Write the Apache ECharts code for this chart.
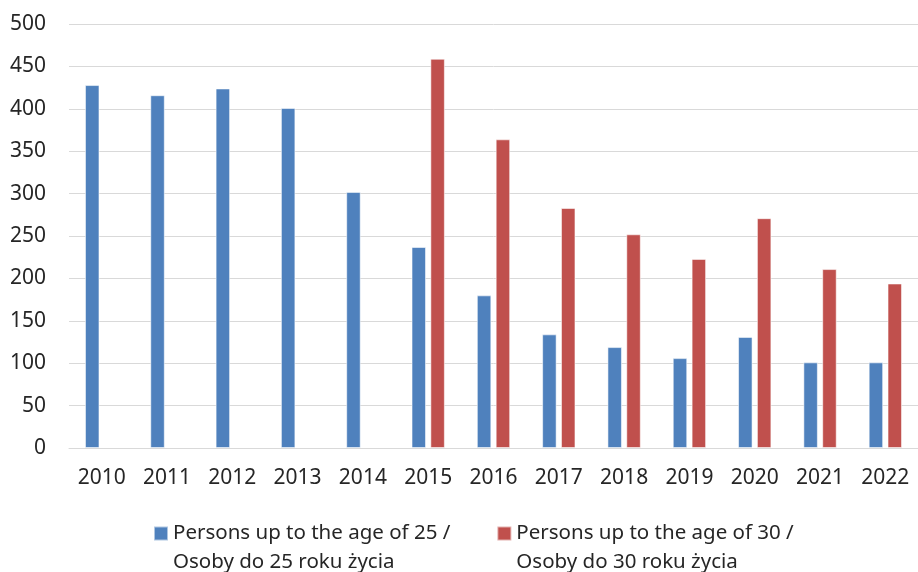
<!DOCTYPE html>
<html>
<head>
<meta charset="utf-8">
<script src="https://cdn.jsdelivr.net/npm/echarts@6/dist/echarts.min.js"></script>
<style>html,body{margin:0;padding:0;background:#fff}#c{width:918px;height:572px}</style>
</head>
<body>
<div id="c"></div>
<script>
const categories = ['2010','2011','2012','2013','2014','2015','2016','2017','2018','2019','2020','2021','2022'];
const under25 = [428, 416, 424, 401, 302, 237, 180, 134, 119, 106, 131, 101, 101];
const under30 = [null, null, null, null, null, 459, 364, 283, 252, 223, 271, 211, 194];
const seriesNames = ['Persons up to the age of 25 /\nOsoby do 25 roku życia', 'Persons up to the age of 30 /\nOsoby do 30 roku życia'];
const yTicks = {min: 0, max: 500, interval: 50};

const FONT = 'Noto Sans';
const TXT = '#262626';
const chart = echarts.init(document.getElementById('c'), null, {renderer: 'canvas'});
chart.setOption({
  animation: false,
  grid: {left: 69, top: 24, width: 855, height: 424},
  legend: {
    left: 153, top: 490, padding: 0,
    itemWidth: 14, itemHeight: 14, itemGap: 46,
    icon: 'rect',
    formatter: function (name) { return '\u200b\n' + name; },
    textStyle: {fontFamily: FONT, fontSize: 20.5, color: TXT, lineHeight: 29}
  },
  xAxis: {
    type: 'category', data: categories,
    axisLine: {lineStyle: {color: '#d9d9d9', width: 1}},
    axisTick: {show: false},
    axisLabel: {fontFamily: FONT, fontSize: 21, color: TXT, margin: 20}
  },
  yAxis: {
    type: 'value', min: yTicks.min, max: yTicks.max, interval: yTicks.interval,
    axisLine: {show: false}, axisTick: {show: false},
    splitLine: {lineStyle: {color: '#d9d9d9', width: 1}},
    axisLabel: {fontFamily: FONT, fontSize: 21, color: TXT, margin: 23}
  },
  series: [
    {name: seriesNames[0], type: 'bar', data: under25, barWidth: 14.5, barGap: '30%',
     itemStyle: {color: '#4F81BD', borderColor: 'rgba(255,255,255,0.55)', borderWidth: 1}},
    {name: seriesNames[1], type: 'bar', data: under30, barWidth: 14.5, barGap: '30%',
     itemStyle: {color: '#C0504D', borderColor: 'rgba(255,255,255,0.55)', borderWidth: 1}}
  ]
});
</script>
</body>
</html>
